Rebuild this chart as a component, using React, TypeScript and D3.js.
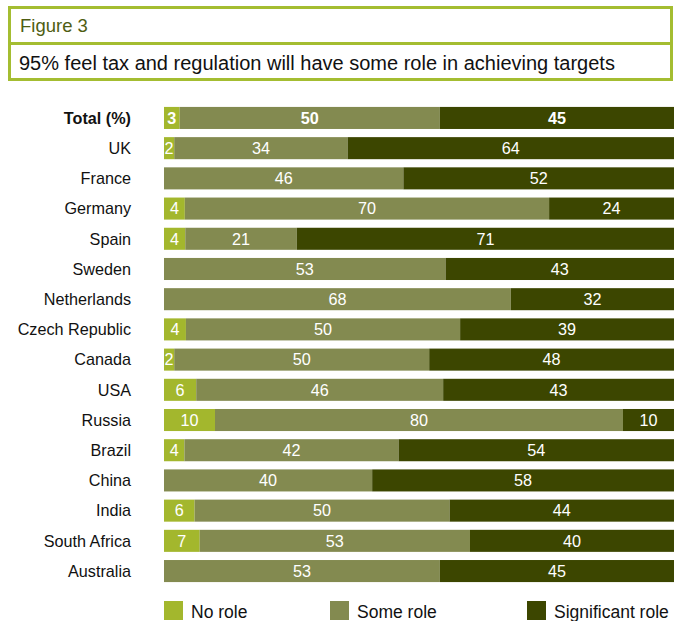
import React from "react";
import * as d3 from "d3";

const categories = ["Total (%)", "UK", "France", "Germany", "Spain", "Sweden", "Netherlands", "Czech Republic", "Canada", "USA", "Russia", "Brazil", "China", "India", "South Africa", "Australia"];
const noRole = [3, 2, 0, 4, 4, 0, 0, 4, 2, 6, 10, 4, 0, 6, 7, 0];
const someRole = [50, 34, 46, 70, 21, 53, 68, 50, 50, 46, 80, 42, 40, 50, 53, 53];
const significantRole = [45, 64, 52, 24, 71, 43, 32, 39, 48, 43, 10, 54, 58, 44, 40, 45];
const seriesNames = ["No role", "Some role", "Significant role"];
const colors = ["#a3b72d", "#838a50", "#3c4600"];

const W = 674;
const H = 621;
const FONT = "'Liberation Sans', Arial, Helvetica, sans-serif";

export default function App() {
  const series = [noRole, someRole, significantRole];
  const y = d3.scaleBand<string>().domain(categories).range([103, 586]).paddingInner(0.27).paddingOuter(0.13);
  const x0 = 164, x1 = 674;
  return (
    <svg width={W} height={H} style={{ position: "absolute", left: 0, top: 0, display: "block" }} fontFamily={FONT}>
      <rect x={0} y={0} width={W} height={H} fill="#fff" />
      {/* header */}
      <rect x={9.5} y={7.5} width={662} height={72} fill="none" stroke="#a4bd31" strokeWidth={3} />
      <line x1={9.5} x2={671.5} y1={43.5} y2={43.5} stroke="#a4bd31" strokeWidth={3} />
      <text x={20} y={32} fontSize={18.5} fill="#4e5d12">Figure 3</text>
      <text x={19} y={69.5} fontSize={20} fill="#111">95% feel tax and regulation will have some role in achieving targets</text>
      {categories.map((c, i) => {
        const vals = series.map((s) => s[i]);
        const total = d3.sum(vals);
        const x = d3.scaleLinear().domain([0, total]).range([x0, x1]);
        let acc = 0;
        const yy = y(c)!;
        const bh = y.bandwidth();
        return (
          <g key={c}>
            <text x={131} y={yy + bh / 2} dy="0.36em" textAnchor="end" fontSize={16.2} fontWeight={i === 0 ? "bold" : "normal"} fill="#111">{c}</text>
            {vals.map((v, k) => {
              const start = acc;
              acc += v;
              if (v === 0) return null;
              const xs = x(start), xe = x(acc);
              return (
                <g key={k}>
                  <rect x={xs} y={yy} width={xe - xs} height={bh} fill={colors[k]} />
                  <text x={(xs + xe) / 2} y={yy + bh / 2} dy="0.36em" textAnchor="middle" fontSize={16.2} fontWeight={i === 0 ? "bold" : "normal"} fill="#fff">{v}</text>
                </g>
              );
            })}
          </g>
        );
      })}
      {/* legend */}
      {seriesNames.map((n, k) => {
        const lx = [164, 330, 527][k];
        return (
          <g key={n}>
            <rect x={lx} y={601} width={19} height={19} fill={colors[k]} />
            <text x={lx + 27} y={618} fontSize={17.5} fill="#111">{n}</text>
          </g>
        );
      })}
    </svg>
  );
}
